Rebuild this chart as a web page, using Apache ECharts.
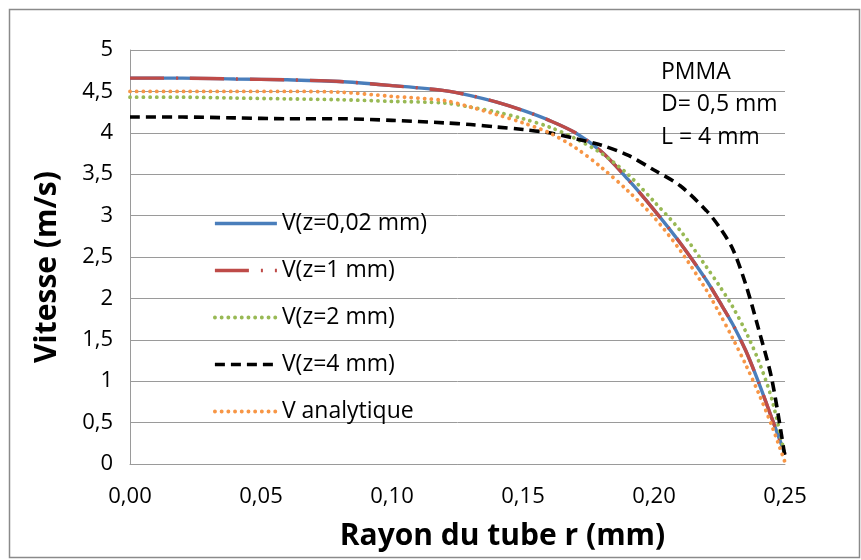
<!DOCTYPE html>
<html>
<head>
<meta charset="utf-8">
<script src="https://cdn.jsdelivr.net/npm/echarts@6/dist/echarts.min.js"></script>
<style>
html,body{margin:0;padding:0;background:#fff;}
#chart{width:861px;height:560px;}
</style>
</head>
<body>
<div id="chart"></div>
<script>
// Radius (mm)
const rayon = [0, 0.02, 0.04, 0.06, 0.08, 0.10, 0.12, 0.13, 0.14, 0.15, 0.16, 0.17, 0.18, 0.19, 0.20, 0.21, 0.22, 0.225, 0.23, 0.235, 0.24, 0.245, 0.25];
// Velocity profiles (m/s)
const vZ002 = [4.66, 4.66, 4.65, 4.64, 4.62, 4.57, 4.51, 4.45, 4.37, 4.27, 4.15, 4.00, 3.77, 3.44, 3.07, 2.67, 2.22, 1.96, 1.69, 1.37, 0.98, 0.55, 0.12];
const vZ1   = [4.66, 4.66, 4.65, 4.64, 4.62, 4.57, 4.51, 4.45, 4.37, 4.27, 4.15, 4.00, 3.77, 3.44, 3.07, 2.67, 2.22, 1.96, 1.69, 1.37, 0.98, 0.55, 0.12];
const vZ2   = [4.43, 4.43, 4.42, 4.41, 4.40, 4.38, 4.36, 4.31, 4.25, 4.17, 4.07, 3.93, 3.75, 3.50, 3.17, 2.82, 2.38, 2.15, 1.90, 1.60, 1.24, 0.78, 0.10];
const vZ4   = [4.19, 4.19, 4.18, 4.17, 4.17, 4.15, 4.12, 4.10, 4.07, 4.04, 4.00, 3.93, 3.85, 3.73, 3.55, 3.36, 3.06, 2.86, 2.60, 2.17, 1.62, 1.02, 0.08];
const vAna  = [4.50, 4.50, 4.50, 4.50, 4.49, 4.44, 4.39, 4.31, 4.22, 4.12, 4.00, 3.82, 3.58, 3.30, 2.98, 2.58, 2.10, 1.82, 1.52, 1.20, 0.85, 0.46, 0.02];
const seriesNames = ['V(z=0,02 mm)', 'V(z=1 mm)', 'V(z=2 mm)', 'V(z=4 mm)', 'V analytique'];
const xTicks = [0, 0.05, 0.10, 0.15, 0.20, 0.25];
const notes = ['PMMA', 'D= 0,5 mm', 'L = 4 mm'];

const pts = v => rayon.map((r, i) => [r, v[i]]);
const font = '"Open Sans", sans-serif';

const chart = echarts.init(document.getElementById('chart'), null, {renderer: 'canvas'});
const gridColor = '#9a9a9a';

const styles = [
  {color: '#4A7EBB', width: 3.4, type: 'solid', cap: 'butt'},
  {color: '#BE4B48', width: 3.4, type: [34, 12, 2, 12], cap: 'butt'},
  {color: '#98B954', width: 3.8, type: [0.1, 6.6], cap: 'round'},
  {color: '#000000', width: 3.6, type: [10, 6], cap: 'butt'},
  {color: '#F79646', width: 3.8, type: [0.1, 6.6], cap: 'round'}
];
const dataSets = [vZ002, vZ1, vZ2, vZ4, vAna];

const series = seriesNames.map((name, k) => ({
  name: name,
  type: 'line',
  data: pts(dataSets[k]),
  smooth: 0.3,
  symbol: 'none',
  z: 2 + k,
  color: styles[k].color,
  lineStyle: {color: styles[k].color, width: styles[k].width, type: styles[k].type, cap: styles[k].cap}
}));

const legendData = seriesNames.map((name, k) => ({
  name: name,
  itemStyle: {color: 'transparent', borderWidth: 0, opacity: 0},
  lineStyle: {color: styles[k].color, width: styles[k].width, type: styles[k].type, cap: styles[k].cap, opacity: 1}
}));

chart.setOption({
  animation: false,
  backgroundColor: '#fff',
  grid: {left: 130, right: 76, top: 50, bottom: 96, containLabel: false},
  xAxis: {
    type: 'value', min: 0, max: 0.25, interval: 0.05,
    name: 'Rayon du tube r (mm)', nameLocation: 'middle', nameGap: 57,
    nameTextStyle: {fontFamily: font, fontWeight: 'bold', fontSize: 30, color: '#000', padding: [0, 0, 0, 90]},
    axisLine: {show: true, lineStyle: {color: gridColor, width: 1}},
    axisTick: {show: false},
    splitLine: {show: false},
    axisLabel: {
      margin: 22, fontFamily: font, fontSize: 22, color: '#000',
      formatter: v => xTicks.some(t => Math.abs(t - v) < 1e-9) ? v.toFixed(2).replace('.', ',') : ''
    }
  },
  yAxis: {
    type: 'value', min: 0, max: 5, interval: 0.5,
    name: 'Vitesse (m/s)', nameLocation: 'middle', nameGap: 68,
    nameTextStyle: {fontFamily: font, fontWeight: 'bold', fontSize: 30, color: '#000', padding: [0, 20, 0, 0]},
    axisLine: {show: true, lineStyle: {color: gridColor, width: 1}},
    axisTick: {show: false},
    splitLine: {show: true, lineStyle: {color: gridColor, width: 1}},
    axisLabel: {
      margin: 17, fontFamily: font, fontSize: 22, color: '#000',
      formatter: v => String(Math.round(v * 10) / 10).replace('.', ',')
    }
  },
  legend: {
    orient: 'vertical', left: 213, top: 212, padding: 0,
    itemWidth: 62, itemHeight: 14, itemGap: 24,
    itemStyle: {color: 'transparent', borderWidth: 0, opacity: 0},
    textStyle: {fontFamily: font, fontSize: 23, color: '#000'},
    data: legendData,
    backgroundColor: 'transparent'
  },
  graphic: [
    {type: 'rect', left: 7, top: 7, shape: {width: 850, height: 548},
     style: {fill: 'none', stroke: '#8a8a8a', lineWidth: 1.5}, z: 100, silent: true},
    ...notes.map((t, i) => ({
      type: 'text', left: 661, top: [61, 93, 126][i],
      style: {text: t, font: '23px ' + font, fill: '#000'}, z: 100
    }))
  ],
  series: series
});
</script>
</body>
</html>
